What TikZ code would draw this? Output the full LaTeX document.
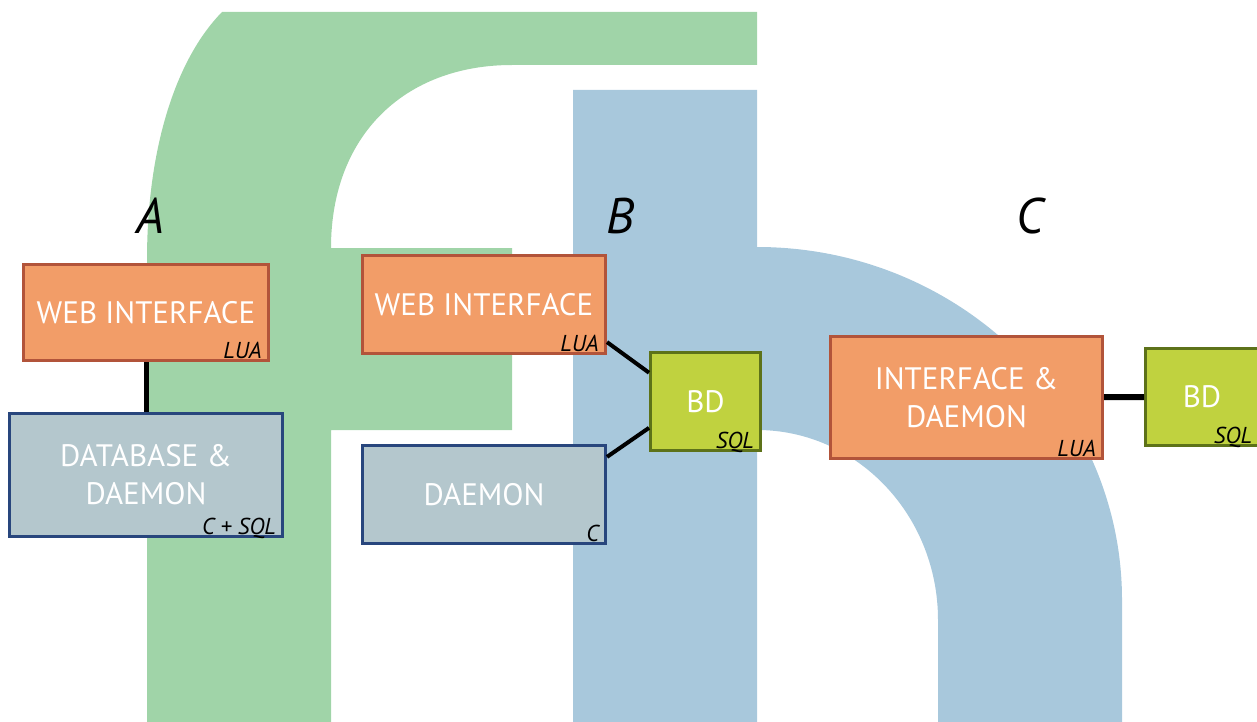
\documentclass[tikz,border=0pt]{standalone}
\usepackage{fontspec}
\setmainfont{PT Sans}
\definecolor{fgreen}{RGB}{160,212,168}
\definecolor{hblue}{RGB}{168,200,220}
\definecolor{webfill}{RGB}{242,157,104}
\definecolor{webdraw}{RGB}{178,84,58}
\definecolor{dmnfill}{RGB}{180,199,205}
\definecolor{dmndraw}{RGB}{40,70,125}
\definecolor{bdfill}{RGB}{192,210,63}
\definecolor{bddraw}{RGB}{93,114,25}

\begin{document}
\begin{tikzpicture}[x=1pt,y=-1pt,
  box/.style={line width=3pt,inner sep=0pt,align=center,text=white,
    font=\fontsize{31}{38}\selectfont},
  web/.style={box,fill=webfill,draw=webdraw},
  dmn/.style={box,fill=dmnfill,draw=dmndraw},
  bd/.style={box,fill=bdfill,draw=bddraw},
  tag/.style={anchor=south east,inner xsep=8pt,inner ysep=3pt,text depth=0pt,
    text=black,font=\fontsize{23}{26}\selectfont\itshape},
  case/.style={font=\fontsize{50}{56}\selectfont\itshape},
  link/.style={line width=5pt}]
\useasboundingbox (0,0) rectangle (1257,722);
% The letter f
\fill[fgreen] (147,722) -- (147,260) .. controls (147,150) and (175,60) .. (222,12)
  -- (757,12) -- (757,65) -- (512,65) .. controls (405,65) and (331,135) .. (331,248)
  -- (512,248) -- (512,430) -- (331,430) -- (331,722) -- cycle;
% The letter h
\fill[hblue] (573,722) -- (573,90) -- (757,90) -- (757,247)
  .. controls (958,247) and (1122,405) .. (1122,600) -- (1122,722) -- (938,722)
  -- (938,620) .. controls (938,515) and (857,430) .. (757,430) -- (757,722) -- cycle;

% The cases
\node[case] (caseA) at (150,216) {A};
\node[case] (caseB) at (620,216) {B};
\node[case] (caseC) at (1030,216) {C};

% Case A
\node[web,minimum width=245pt,minimum height=96pt,
  label={[tag]south east:LUA}] (webA) at (146,312.5) {WEB INTERFACE};
\node[dmn,minimum width=273pt,minimum height=123pt,
  label={[tag]south east:C + SQL}] (dbA) at (146,475) {DATABASE \&\\DAEMON};
\draw[link] (webA) -- (dbA);

% Case B
\node[web,minimum width=243pt,minimum height=98pt,
  label={[tag]south east:LUA}] (webB) at (484,304.5) {WEB INTERFACE};
\node[dmn,minimum width=243pt,minimum height=98pt,
  label={[tag]south east:C}] (dmnB) at (484,494.5) {DAEMON};
\node[bd,minimum width=110pt,minimum height=98pt,
  label={[tag]south east:SQL}] (bdB) at (705.5,401.5) {BD};
\draw[link,line width=4pt] (webB.-17.4) -- (bdB.153.2);
\draw[link,line width=4pt] (dmnB.17) -- (bdB.205.1);

% Case C
\node[web,minimum width=272pt,minimum height=122pt,
  label={[tag]south east:LUA}] (ifaceC) at (966.5,397.5) {INTERFACE \&\\DAEMON};
\node[bd,minimum width=113pt,minimum height=97pt,
  label={[tag]south east:SQL}] (bdC) at (1202,397) {BD};
\draw[link,line width=6pt] (ifaceC) -- (bdC);
\end{tikzpicture}
\end{document}
